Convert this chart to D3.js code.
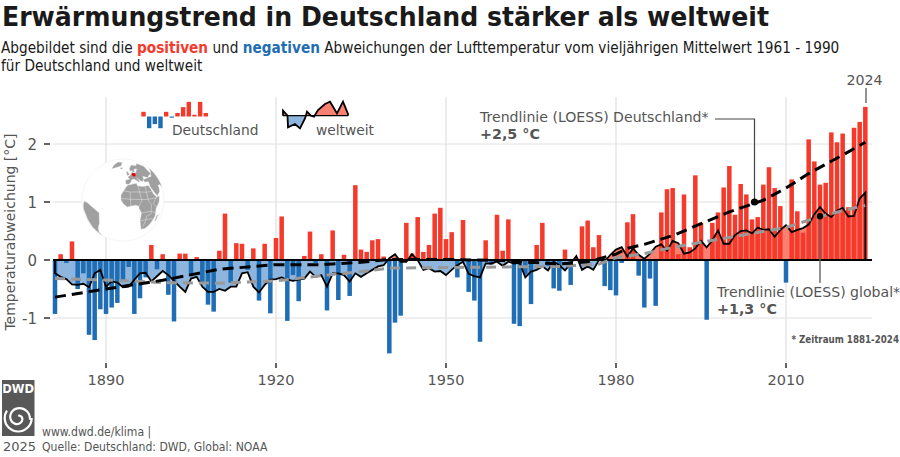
<!DOCTYPE html>
<html>
<head>
<meta charset="utf-8">
<script src="https://cdn.jsdelivr.net/npm/d3@7"></script>
<style>
  html, body { margin: 0; padding: 0; background: #fff; }
  svg { display: block; font-family: "DejaVu Sans", sans-serif; }
  .cond { font-family: "DejaVu Sans Condensed", "DejaVu Sans", sans-serif; font-stretch: condensed; }
</style>
</head>
<body>
<svg id="chart" width="900" height="457"></svg>
<script>
const firstYear = 1881;

const germany = [
  -.93, .10, -.05, .32, -.50,
  -.23, -1.29, -1.38, -.85, -.93,
  -.82, -.74, -.35, -.12, -.93,
  -.66, -.30, .26, -.16, .10,
  -.60, -1.06, .11, .11, -.28,
  .05, -.40, -.77, -.89, .16,
  .80, -.39, .29, .28, -.17,
  .20, -.70, .28, -.92, .38,
  .75, -1.05, -.26, -.71, .07,
  .49, -.05, .10, -.87, .51,
  -.69, .09, -.62, 1.29, .18,
  .14, .34, .36, .06, -1.61,
  -1.08, -.96, .64, .11, .74,
  .14, .26, .80, .90, .36,
  .48, -.30, .69, -.55, -.70,
  -1.41, .34, -.08, .78, .16,
  .70, -1.10, -1.14, -.25, -.76,
  .26, .64, -.10, -.49, -.53,
  .18, -.43, .03, .58, .68,
  .22, .43, -.45, -.52, -.61,
  -.05, .65, .79, -.27, -.82,
  -.32, -.79, .82, 1.22, 1.24,
  .10, 1.13, .22, 1.46, .64,
  -1.03, .64, .82, 1.25, 1.62,
  .78, 1.31, 1.13, .70, .74,
  1.30, 1.60, 1.24, .93, -.39,
  1.39, .84, .47, 2.08, 1.70,
  1.30, 1.33, 2.20, 2.03, 2.18,
  .91, 2.28, 2.38, 2.64
];

const globalTemp = [
  -.23, -.29, -.33, -.42, -.43,
  -.41, -.47, -.23, -.17, -.46,
  -.37, -.39, -.47, -.46, -.34,
  -.23, -.22, -.37, -.28, -.19,
  -.26, -.36, -.46, -.55, -.32,
  -.29, -.46, -.55, -.55, -.50,
  -.53, -.46, -.46, -.23, -.21,
  -.46, -.56, -.43, -.34, -.33,
  -.30, -.34, -.36, -.34, -.32,
  -.20, -.29, -.26, -.46, -.23,
  -.23, -.26, -.37, -.23, -.29,
  -.23, -.17, -.11, -.09, .03,
  .10, -.03, -.03, .10, 0,
  -.17, -.14, -.20, -.19, -.26,
  -.17, -.09, -.03, -.24, -.28,
  -.30, -.06, -.06, -.03, -.10,
  -.03, -.06, -.05, -.30, -.20,
  -.17, -.11, -.18, -.03, -.09,
  -.18, -.06, .07, -.17, -.11,
  -.17, 0, -.03, .09, .18,
  .22, .06, .20, .09, .02,
  .11, .23, .27, .16, .33,
  .29, .11, .13, .20, .33,
  .22, .34, .51, .28, .28,
  .43, .50, .51, .46, .56,
  .52, .53, .40, .52, .60,
  .48, .52, .55, .61, .79,
  .91, .80, .74, .85, .90,
  .75, .76, 1.06, 1.16
];

const years = germany.map((d, i) => firstYear + i);

const trendYears = [1881, 1890, 1900, 1910, 1920, 1928, 1935, 1940, 1950, 1960, 1970, 1975, 1980, 1982, 1985, 1990, 2000, 2006, 2010, 2014, 2020, 2024];
const trendGermany = [-.64, -.50, -.35, -.16, -.08, -.08, -.04, .01, .01, -.01, -.07, -.03, .10, .20, .27, .42, .83, 1.03, 1.24, 1.49, 1.81, 2.03];

const trendGlobalYears = [1881, 1890, 1900, 1910, 1920, 1928, 1935, 1940, 1950, 1960, 1970, 1977, 1980, 1985, 1990, 2000, 2010, 2015, 2020, 2024];
const trendGlobal = [-.32, -.345, -.39, -.40, -.36, -.27, -.20, -.14, -.13, -.12, -.11, -.07, .04, .11, .22, .39, .56, .72, .85, .94];

const yTicks = [-1, 0, 1, 2];
const xTicks = [1890, 1920, 1950, 1980, 2010];

const legendBars = [.08, -.2, -.13, -.2, .08, -.02, .06, .16, .25, .03, .25, .06];
const legendLineX = [0, 0, 4.5, 5, 12, 17, 22, 24, 28, 31, 35, 42, 47, 54, 60, 65, 65];
const legendLineY = [0, 5, 0, -11.7, -8.3, -12.7, -2.7, 4, 0, -1, 5.7, 11.7, 14, 2.3, 14, 1.7, 0];

const landRings = [
  [[-6,35],[10,37],[11,33],[20,31],[32,31],[35,24],[37,18],[43,12],[51,12],[48,4],[40,-4],[40,-15],[35,-24],[32,-29],[26,-34],[18,-34],[12,-18],[13,-6],[9,1],[9,4],[4,6],[-4,5],[-8,4],[-13,8],[-17,14],[-17,21],[-13,27],[-9,32]],
  [[-9,37],[-9,43],[-1,44],[-4,48],[3,51],[8,54],[8,57],[11,56],[12,54],[20,55],[24,59],[30,60],[22,61],[18,60],[17,56],[12,56],[11,59],[6,58],[5,62],[14,68],[25,71],[40,67],[60,70],[70,60],[60,45],[50,45],[40,42],[30,46],[28,41],[23,38],[20,40],[14,45],[18,40],[16,38],[8,44],[3,43],[0,39],[-5,36]],
  [[27,37],[27,41],[42,42],[52,42],[90,50],[90,15],[75,20],[67,25],[57,26],[58,23],[55,17],[45,13],[39,21],[35,29],[36,36]],
  [[-86,3],[-74,3],[-64,0],[-50,-7],[-53,-24],[-60,-33],[-70,-45],[-78,-55],[-85,-55],[-85,-25],[-92,-10],[-90,-3]],
  [[-50,62],[-40,65],[-22,70],[-20,80],[-60,80],[-55,70]],
  [[-24,64],[-22,66],[-14,66],[-14,64],[-19,63]],
  [[-5,50],[-5,58],[-2,58],[1,52]],
  [[44,-16],[50,-14],[47,-25],[44,-24]]
];
const germanyRing = [[6,51],[7,54],[14,54],[15,51],[13,48],[8,48]];
const africaBorders = [
  [[-13,27],[-3,25],[12,24],[25,22],[36,22]],
  [[25,31],[25,10],[30,4],[30,-10],[22,-12],[22,-18],[20,-29]],
  [[12,33],[12,24],[14,12],[9,4]],
  [[-17,16],[-5,15],[14,13],[24,12],[43,11]],
  [[-3,25],[-3,5]],
  [[13,-6],[30,-6],[40,-10]],
  [[12,-18],[35,-18]],
  [[42,12],[34,4],[41,-2]]
];

const bg = d3.select('#chart');
const x = d3.scaleLinear().domain([1890, 2010]).range([106, 786]);
const y = d3.scaleLinear().domain([0, 1]).range([260, 202]);
const barW = 4.5;
const colPos = '#f5392b', colNeg = '#1f6eb5';
const colText = '#555555';

// raster
const grid = bg.append('g').attr('stroke', '#e0e0e0');
grid.selectAll('line.h').data(yTicks).enter().append('line')
  .attr('x1', 53).attr('x2', 872)
  .attr('y1', d => y(d)).attr('y2', d => y(d)).attr('stroke-width', 1);
grid.selectAll('line.v').data(xTicks).enter().append('line')
  .attr('x1', d => x(d)).attr('x2', d => x(d))
  .attr('y1', 97).attr('y2', 362).attr('stroke-width', 1.2);

// achsen
const axisG = bg.append('g');
axisG.selectAll('line.yt').data(yTicks).enter().append('line')
  .attr('x1', 44).attr('x2', 50).attr('y1', d => y(d)).attr('y2', d => y(d))
  .attr('stroke', '#222').attr('stroke-width', 1.4);
axisG.selectAll('text.yl').data(yTicks).enter().append('text')
  .attr('x', 37).attr('y', d => y(d) + 5.5).attr('text-anchor', 'end')
  .attr('font-size', 15).attr('fill', colText).text(d => d);
axisG.selectAll('line.xt').data(xTicks).enter().append('line')
  .attr('x1', d => x(d)).attr('x2', d => x(d)).attr('y1', 363).attr('y2', 368)
  .attr('stroke', '#222').attr('stroke-width', 1.4);
axisG.selectAll('text.xl').data(xTicks).enter().append('text')
  .attr('x', d => x(d)).attr('y', 385).attr('text-anchor', 'middle')
  .attr('font-size', 14.5).attr('fill', colText).text(d => d);
axisG.append('text').attr('transform', 'translate(15,232) rotate(-90)')
  .attr('text-anchor', 'middle').attr('font-size', 14).attr('fill', colText)
  .text('Temperaturabweichung [°C]');

// flaeche global, oben rot, unten blau
const defs = bg.append('defs');
defs.append('clipPath').attr('id', 'clipUp').append('rect')
  .attr('x', 0).attr('y', 0).attr('width', 900).attr('height', y(0));
defs.append('clipPath').attr('id', 'clipDown').append('rect')
  .attr('x', 0).attr('y', y(0)).attr('width', 900).attr('height', 457 - y(0));

const area = d3.area().x((d, i) => x(years[i])).y0(y(0)).y1(d => y(d));
bg.append('path').datum(globalTemp).attr('d', area).attr('fill', '#fa8072').attr('clip-path', 'url(#clipUp)');
bg.append('path').datum(globalTemp).attr('d', area).attr('fill', '#8db5dd').attr('clip-path', 'url(#clipDown)');

// balken deutschland
bg.append('g').selectAll('rect').data(germany).enter().append('rect')
  .attr('x', (d, i) => x(years[i]) - barW / 2)
  .attr('width', barW)
  .attr('y', d => y(Math.max(d, 0)))
  .attr('height', d => Math.abs(y(d) - y(0)))
  .attr('fill', d => d >= 0 ? colPos : colNeg);

// linien
const line = d3.line().x(d => x(d[0])).y(d => y(d[1]));
const globalPts = [[firstYear, 0]].concat(globalTemp.map((d, i) => [years[i], d]), [[2024, 0]]);
bg.append('path').datum(globalPts).attr('d', line)
  .attr('fill', 'none').attr('stroke', '#000').attr('stroke-width', 1.8).attr('stroke-linejoin', 'miter');

bg.append('line').attr('x1', 53).attr('x2', 872).attr('y1', y(0)).attr('y2', y(0))
  .attr('stroke', '#000').attr('stroke-width', 2);

bg.append('path').datum(trendGlobal.map((d, i) => [trendGlobalYears[i], d])).attr('d', line)
  .attr('fill', 'none').attr('stroke', '#999').attr('stroke-width', 3).attr('stroke-dasharray', '10 6');
bg.append('path').datum(trendGermany.map((d, i) => [trendYears[i], d])).attr('d', line)
  .attr('fill', 'none').attr('stroke', '#000').attr('stroke-width', 3).attr('stroke-dasharray', '11 6');

// annotationen
const lead = d3.line();
bg.append('path').attr('d', lead([[715, 119], [754.5, 119], [754.5, 202]])).attr('fill', 'none').attr('stroke', '#444').attr('stroke-width', 1.2);
bg.append('path').attr('d', lead([[820, 216], [820, 283]])).attr('fill', 'none').attr('stroke', '#666').attr('stroke-width', 1.4);
bg.append('path').attr('d', lead([[866, 88], [866, 103]])).attr('fill', 'none').attr('stroke', '#666').attr('stroke-width', 1.4);
bg.append('circle').attr('cx', 754.5).attr('cy', y(1)).attr('r', 3.6).attr('fill', '#000');
bg.append('circle').attr('cx', 820).attr('cy', 216.3).attr('r', 3.2).attr('fill', '#000');

const addText = (tx, ty, s, size, weight, anchor, fill) => bg.append('text')
  .attr('x', tx).attr('y', ty).attr('font-size', size).attr('font-weight', weight || 'normal')
  .attr('text-anchor', anchor || 'start').attr('fill', fill || colText).text(s);

addText(480, 122, 'Trendlinie (LOESS) Deutschland*', 14.1);
addText(480, 139, '+2,5 °C', 14.3, 'bold');
addText(717, 297, 'Trendlinie (LOESS) global*', 14.1);
addText(717, 314, '+1,3 °C', 14.3, 'bold');
addText(864.5, 85, '2024', 14.2, 'normal', 'middle');
addText(899, 343, '* Zeitraum 1881-2024', 9.7, 'bold', 'end').attr('class', 'cond');

// legende
const legendX = d3.scaleLinear().domain([0, 11]).range([143.5, 205.8]);
const legendY = d3.scaleLinear().domain([0, 1]).range([116.5, 58]);
bg.append('g').selectAll('rect').data(legendBars).enter().append('rect')
  .attr('x', (d, i) => legendX(i) - 2.2).attr('width', 4.4)
  .attr('y', d => legendY(Math.max(d, 0)))
  .attr('height', d => Math.abs(legendY(d) - legendY(0)))
  .attr('fill', d => d >= 0 ? colPos : colNeg);
addText(172, 135, 'Deutschland', 13.8);

const legendAreaX = d3.scaleLinear().domain([0, 65]).range([283, 348]);
const legendAreaY = d3.scaleLinear().domain([0, 14]).range([115.7, 101.7]);
const legendPts = legendLineX.map((d, i) => [d, legendLineY[i]]);
defs.append('clipPath').attr('id', 'clipLegUp').append('rect').attr('x', 270).attr('y', 90).attr('width', 90).attr('height', legendAreaY(0) - 90);
defs.append('clipPath').attr('id', 'clipLegDown').append('rect').attr('x', 270).attr('y', legendAreaY(0)).attr('width', 90).attr('height', 30);
const legArea = d3.area().x(d => legendAreaX(d[0])).y0(legendAreaY(0)).y1(d => legendAreaY(d[1]));
bg.append('path').datum(legendPts).attr('d', legArea).attr('fill', '#fa8072').attr('clip-path', 'url(#clipLegUp)');
bg.append('path').datum(legendPts).attr('d', legArea).attr('fill', '#8db5dd').attr('clip-path', 'url(#clipLegDown)');
bg.append('line').attr('x1', 283).attr('x2', 348).attr('y1', legendAreaY(0)).attr('y2', legendAreaY(0)).attr('stroke', '#000').attr('stroke-width', 1.2);
bg.append('path').datum(legendPts)
  .attr('d', d3.line().x(d => legendAreaX(d[0])).y(d => legendAreaY(d[1])))
  .attr('fill', 'none').attr('stroke', '#000').attr('stroke-width', 1.8);
addText(316, 135, 'weltweit', 13.8);

// globus
const projection = d3.geoOrthographic().rotate([14, -14]).translate([123, 200]).scale(41).clipAngle(90);
const geoP = d3.geoPath(projection);
const polygon = ring => {
  const closed = ring.concat([ring[0]]);
  const f = { type: 'Polygon', coordinates: [closed] };
  return d3.geoArea(f) > 2 * Math.PI ? { type: 'Polygon', coordinates: [closed.slice().reverse()] } : f;
};
const globe = bg.append('g');
globe.append('path').datum({ type: 'Sphere' }).attr('d', geoP).attr('fill', '#fff').attr('stroke', '#eeeeee').attr('stroke-width', 0.6);
globe.selectAll('path.land').data(landRings).enter().append('path')
  .attr('d', d => geoP(polygon(d))).attr('fill', '#a0a0a0').attr('stroke', '#e8e8e8').attr('stroke-width', 0.4);
globe.append('path').datum({ type: 'MultiLineString', coordinates: africaBorders }).attr('d', geoP)
  .attr('fill', 'none').attr('stroke', '#e4e4e4').attr('stroke-width', 0.5);
globe.append('path').datum(polygon(germanyRing)).attr('d', geoP).attr('fill', '#ee0000');

// kopf
addText(2, 25.5, 'Erwärmungstrend in Deutschland stärker als weltweit', 27.4, 'bold', 'start', '#1a1a1a')
  .attr('class', 'cond').attr('textLength', 767).attr('lengthAdjust', 'spacingAndGlyphs');
const sub = bg.append('text').attr('class', 'cond').attr('x', 1).attr('y', 53).attr('font-size', 15.2).attr('fill', '#1a1a1a');
sub.append('tspan').text('Abgebildet sind die ');
sub.append('tspan').attr('font-weight', 'bold').attr('fill', colPos).text('positiven');
sub.append('tspan').text(' und ');
sub.append('tspan').attr('font-weight', 'bold').attr('fill', colNeg).text('negativen');
sub.append('tspan').text(' Abweichungen der Lufttemperatur vom vieljährigen Mittelwert 1961 - 1990');
addText(1, 71, 'für Deutschland und weltweit', 15.2, 'normal', 'start', '#1a1a1a').attr('class', 'cond');

// logo und quelle
bg.append('rect').attr('x', 2).attr('y', 380).attr('width', 32.5).attr('height', 56).attr('fill', '#585858');
addText(18.2, 393, 'DWD', 11.5, 'bold', 'middle', '#fff');
const spiral = d3.lineRadial().curve(d3.curveCardinal);
const spiralPts = d3.range(0, 2.6 * Math.PI, 0.4).map(a => [a, 2 + a * 1.25]);
bg.append('path').attr('transform', 'translate(18.2,418)').attr('d', spiral(spiralPts))
  .attr('fill', 'none').attr('stroke', '#fff').attr('stroke-width', 2.2);
bg.append('circle').attr('cx', 18.2).attr('cy', 418).attr('r', 13.5)
  .attr('fill', 'none').attr('stroke', '#fff').attr('stroke-width', 2.2).attr('stroke-dasharray', '50 35');
addText(3, 451, '2025', 13);
addText(42, 436, 'www.dwd.de/klima |', 12.1).attr('class', 'cond');
addText(42, 451, 'Quelle: Deutschland: DWD, Global: NOAA', 12.1).attr('class', 'cond');
</script>
</body>
</html>
